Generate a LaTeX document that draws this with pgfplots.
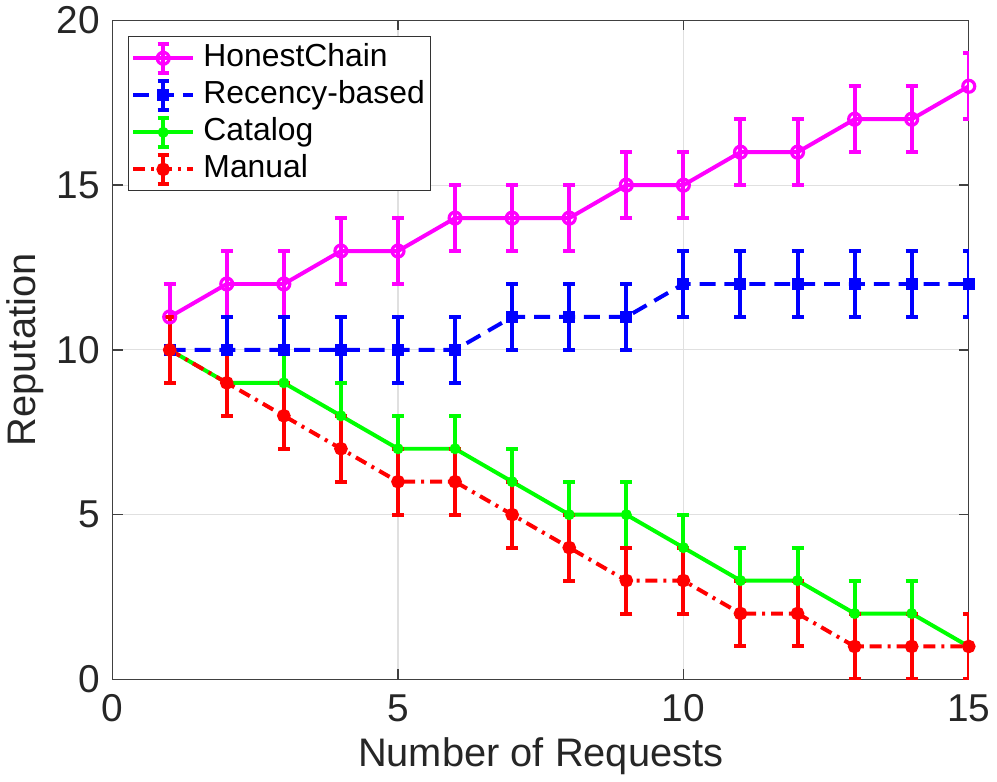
\documentclass[border=0pt]{standalone}
\usepackage{pgfplots}
\pgfplotsset{compat=1.18}
\usepackage{fontspec}
\setmainfont{Liberation Sans}
\definecolor{cmag}{RGB}{255,0,255}
\definecolor{cblue}{RGB}{0,0,255}
\definecolor{cgreen}{RGB}{0,255,0}
\definecolor{cred}{RGB}{255,0,0}
\pgfplotstableread{
x y e
1 11 1
2 12 1
3 12 1
4 13 1
5 13 1
6 14 1
7 14 1
8 14 1
9 15 1
10 15 1
11 16 1
12 16 1
13 17 1
14 17 1
15 18 1
}\honest
\pgfplotstableread{
x y e
1 10 1
2 10 1
3 10 1
4 10 1
5 10 1
6 10 1
7 11 1
8 11 1
9 11 1
10 12 1
11 12 1
12 12 1
13 12 1
14 12 1
15 12 1
}\recency
\pgfplotstableread{
x y e
1 10 1
2 9 1
3 9 1
4 8 1
5 7 1
6 7 1
7 6 1
8 5 1
9 5 1
10 4 1
11 3 1
12 3 1
13 2 1
14 2 1
15 1 1
}\catalog
\pgfplotstableread{
x y e
1 10 1
2 9 1
3 8 1
4 7 1
5 6 1
6 6 1
7 5 1
8 4 1
9 3 1
10 3 1
11 2 1
12 2 1
13 1 1
14 1 1
15 1 1
}\manual
\begin{document}
\begin{tikzpicture}
\begin{axis}[
  scale only axis,
  width=430pt, height=331pt,
  xmin=0, xmax=15, ymin=0, ymax=20,
  xtick={0,5,10,15}, ytick={0,5,10,15,20},
  grid=major,
  major grid style={draw=black!12, line width=0.6pt},
  axis line style={draw=black!75, line width=0.7pt},
  tick style={draw=black!75, line width=0.7pt},
  tick align=inside,
  major tick length=5pt,
  /pgf/number format/assume math mode=true,
  tick label style={font=\fontsize{19.5}{22}\selectfont, text=black!85},
  xticklabel style={yshift=-4pt},
  yticklabel style={xshift=-3pt},
  xlabel={Number of Requests},
  ylabel={Reputation},
  label style={font=\fontsize{20}{23}\selectfont, text=black!85},
  xlabel style={yshift=-1pt},
  ylabel style={yshift=-0.5pt},
  legend style={font=\fontsize{16}{18}\selectfont, draw=black!80, line width=0.6pt,
    at={(0.0175,0.976)}, anchor=north west, inner sep=1.5pt,
    nodes={text height=12pt, text depth=4pt, inner sep=1.3pt}},
  legend cell align=left,
  legend image code/.code={
    \draw[#1,solid,mark=none] (0.53cm,-0.26cm) -- (0.53cm,0.26cm);
    \draw[#1,solid,mark=none] (0.43cm,-0.26cm) -- (0.63cm,-0.26cm);
    \draw[#1,solid,mark=none] (0.43cm,0.26cm) -- (0.63cm,0.26cm);
    \draw[mark repeat=2,mark phase=2,#1] plot coordinates {(0cm,0cm) (0.53cm,0cm) (1.06cm,0cm)};
    \path (1.16cm,0cm);
  },
  every axis plot/.append style={line width=2pt},
  error bars/error bar style={line width=2pt, solid},
  error bars/error mark options={rotate=90, mark size=3pt, line width=2pt, solid},
]
\addplot[cmag, mark=o, mark size=3pt, mark options={solid, line width=1.6pt},
  error bars/.cd, y dir=both, y explicit] table[x=x, y=y, y error=e] {\honest};
\addlegendentry{HonestChain}
\addplot[cblue, dash pattern=on 8pt off 4.5pt, mark=square*, mark size=2pt, mark options={solid},
  error bars/.cd, y dir=both, y explicit] table[x=x, y=y, y error=e] {\recency};
\addlegendentry{Recency-based}
\addplot[cgreen, mark=*, mark size=1.7pt, mark options={solid},
  error bars/.cd, y dir=both, y explicit] table[x=x, y=y, y error=e] {\catalog};
\addlegendentry{Catalog}
\addplot[cred, dash pattern=on 6pt off 3pt on 1.5pt off 3pt, mark=*, mark size=2.4pt, mark options={solid},
  error bars/.cd, y dir=both, y explicit] table[x=x, y=y, y error=e] {\manual};
\addlegendentry{Manual}
\end{axis}
\end{tikzpicture}
\end{document}
